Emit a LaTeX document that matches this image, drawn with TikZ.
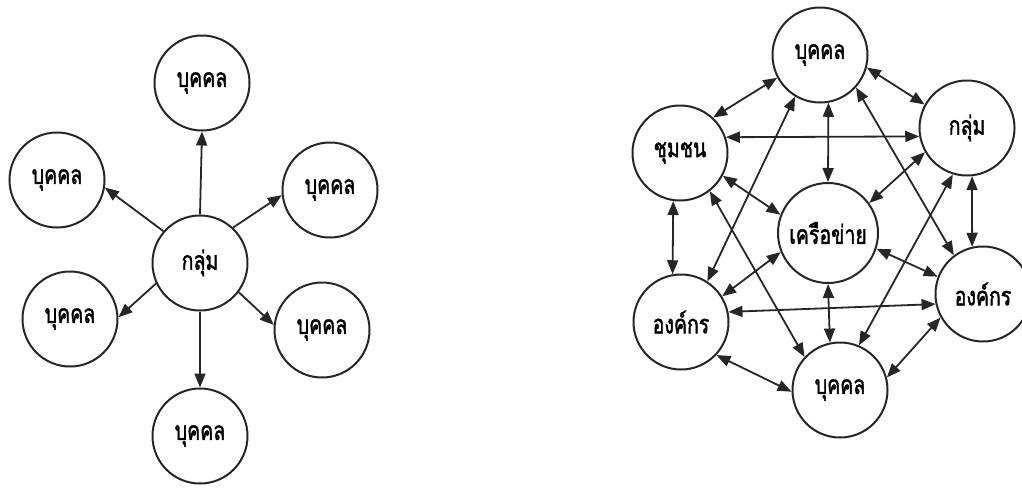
\documentclass[tikz,border=0pt]{standalone}
\usepackage{fontspec}
\newfontfamily\thaifont[Script=Thai,FakeStretch=0.75,FakeBold=1.5]{Loma}
\usetikzlibrary{arrows.meta}
\tikzset{
  circ/.style={circle, draw=black!85, line width=2pt, minimum size=95pt, inner sep=0pt, font=\thaifont\fontsize{26}{28}\selectfont},
  bigcirc/.style={circ, minimum size=100pt},
  tip/.tip={Triangle[length=14pt,width=11pt]},
  one/.style={line width=1.8pt, draw=black!85, -tip},
  two/.style={line width=1.8pt, draw=black!85, tip-tip}
}
\begin{document}
\begin{tikzpicture}[x=1pt,y=-1pt]
\useasboundingbox (0,0) rectangle (1022,488);
% left star
\node[circ] (K) at (200,263) {กลุ่ม};
\node[circ] (T) at (202,83) {บุคคล};
\node[circ] (LT) at (57,180) {บุคคล};
\node[circ] (RT) at (330,190) {บุคคล};
\node[circ] (LB) at (70,319) {บุคคล};
\node[circ] (RB) at (322,330) {บุคคล};
\node[circ] (B) at (200,436) {บุคคล};
\draw[one] (K.north) -- (T.south);
\draw[one] (K.139) -- (LT.-9);
\draw[one] (K.47) -- (RT.186);
\draw[one] (K.205) -- (LB.2);
\draw[one] (K.-37) -- (RB.174);
\draw[one] (K.south) -- (B.north);
% right network
\node[circ] (P1) at (820,55) {บุคคล};
\node[circ] (G) at (967,128) {กลุ่ม};
\node[circ] (C) at (680,153) {ชุมชน};
\node[bigcirc] (N) at (828,233) {เครือข่าย};
\node[circ] (OR) at (983,294) {องค์กร};
\node[circ] (OL) at (681,322) {องค์กร};
\node[circ] (P2) at (840,390) {บุคคล};
\draw[two] (P1.208) -- (C.47);
\draw[two] (P1.-15) -- (G.151);
\draw[two] (P1.-80) -- (N.north);
\draw[two] (P1.-42) -- (OR.127);
\draw[two] (P1.-121) -- (OL.57);
\draw[two] (C.19) -- (G.190);
\draw[two] (C.-28) -- (N.159);
\draw[two] (C.-98) -- (OL.100);
\draw[two] (C.-52) -- (P2.137);
\draw[two] (G.210) -- (N.36);
\draw[two] (G.-84) -- (OR.103);
\draw[two] (G.-107) -- (P2.67);
\draw[two] (N.-18) -- (OR.159);
\draw[two] (N.202) -- (OL.32);
\draw[two] (N.south) -- (P2.102);
\draw[two] (OL.12) -- (OR.192);
\draw[two] (OL.-43) -- (P2.182);
\draw[two] (OR.209) -- (P2.15);
\end{tikzpicture}
\end{document}
